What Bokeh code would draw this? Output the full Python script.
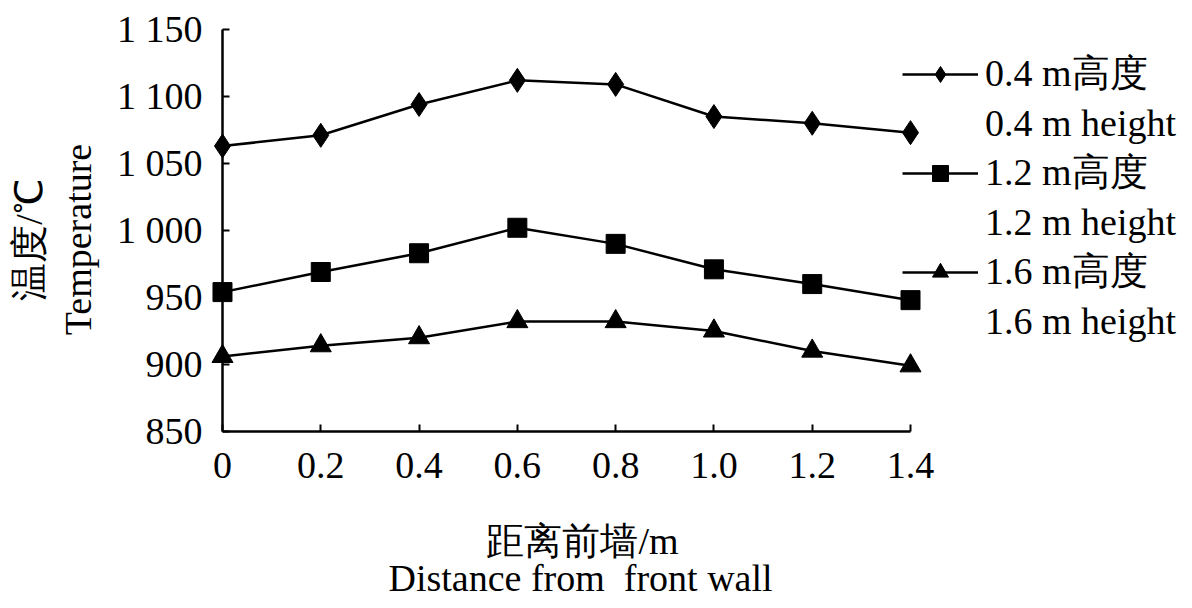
import math
from bokeh.plotting import figure
from bokeh.models import (Range1d, FixedTicker, CustomJSTickFormatter, Label,
                          Legend, LegendItem)
from bokeh.embed import file_html
from bokeh.resources import INLINE

# ---- data ----
distance = [0, 0.2, 0.4, 0.6, 0.8, 1.0, 1.2, 1.4]
temp_04 = [1063, 1071, 1094, 1112, 1109, 1085, 1080, 1073]
temp_12 = [954, 969, 983, 1002, 990, 971, 960, 948]
temp_16 = [906, 914, 920, 932, 932, 925, 910, 899]
x_ticks = [0, 0.2, 0.4, 0.6, 0.8, 1.0, 1.2, 1.4]
y_ticks = [850, 900, 950, 1000, 1050, 1100, 1150]
series_cn = ["0.4 m高度", "1.2 m高度", "1.6 m高度"]
series_en = ["0.4 m height", "1.2 m height", "1.6 m height"]
y_title_cn = "温度/℃"
y_title_en = "Temperature"
x_title_cn = "距离前墙/m"
x_title_en = "Distance from\u00a0 front wall"

FONT = "Liberation Serif"
FS = "38px"

# the plotting frame covers the whole canvas; axes sit at x = 0 and y = 850
p = figure(width=1192, height=608, output_backend="svg", toolbar_location=None,
           x_range=Range1d(-0.4517, 1.9738), y_range=Range1d(717.9, 1171.6),
           min_border=0)
p.grid.visible = False
p.outline_line_color = None
p.background_fill_color = "white"
p.border_fill_color = "white"

for ax in (p.xaxis[0], p.yaxis[0]):
    ax.axis_line_width = 2.5
    ax.axis_line_color = "black"
    ax.major_tick_in = 7
    ax.major_tick_out = 0
    ax.major_tick_line_width = 2
    ax.major_tick_line_color = "black"
    ax.minor_tick_line_color = None
    ax.major_label_text_font = FONT
    ax.major_label_text_font_size = FS
    ax.major_label_text_color = "black"

p.xaxis[0].fixed_location = y_ticks[0]
p.xaxis[0].bounds = (x_ticks[0], x_ticks[-1])
p.xaxis[0].major_label_standoff = 22
p.xaxis[0].ticker = FixedTicker(ticks=x_ticks)
p.xaxis[0].formatter = CustomJSTickFormatter(
    code='return Math.abs(tick) < 1e-9 ? "0" : tick.toFixed(1);')

p.yaxis[0].fixed_location = x_ticks[0]
p.yaxis[0].bounds = (y_ticks[0], y_ticks[-1])
p.yaxis[0].major_label_standoff = 20
p.yaxis[0].ticker = FixedTicker(ticks=y_ticks)
p.yaxis[0].formatter = CustomJSTickFormatter(code='''
const t = Math.round(tick);
if (t >= 1000) { return Math.floor(t / 1000) + " " + String(t % 1000).padStart(3, "0"); }
return String(t);
''')

series = [(temp_04, "diamond", 24), (temp_12, "square", 19), (temp_16, "triangle", 21)]
items = []
for (vals, mk, sz), cn, en in zip(series, series_cn, series_en):
    lr = p.line(distance, vals, line_color="black", line_width=2.5)
    sr = p.scatter(distance, vals, marker=mk, size=sz, fill_color="black",
                   line_color="black")
    blank = p.line(x=[], y=[], line_alpha=0)
    items.append(LegendItem(label=cn, renderers=[lr, sr]))
    items.append(LegendItem(label=en, renderers=[blank]))

legend = Legend(items=items, location=(902, 265), glyph_width=76, glyph_height=40,
                label_height=40, spacing=2, padding=0, margin=0,
                label_standoff=7, border_line_color=None, background_fill_alpha=0,
                label_text_font=FONT, label_text_font_size=FS,
                label_text_color="black")
p.add_layout(legend, "center")

def add_label(text, x, y, angle=0.0):
    p.add_layout(Label(x=x, y=y, x_units="screen", y_units="screen", text=text,
                       angle=angle, text_align="center", text_baseline="middle",
                       text_font=FONT, text_font_size=FS, text_color="black"))

add_label(y_title_cn, 28, 370, math.pi / 2)
add_label(y_title_en, 77, 369, math.pi / 2)
add_label(x_title_cn, 582, 68)
add_label(x_title_en, 580, 31)

open("out.html", "w").write(file_html(p, INLINE))
